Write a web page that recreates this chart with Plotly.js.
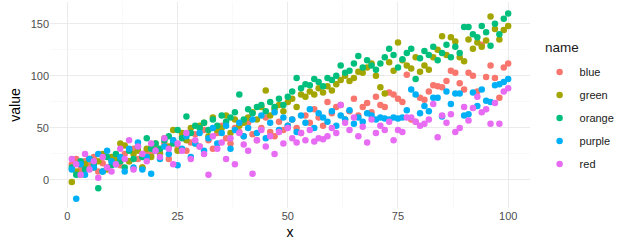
<!DOCTYPE html>
<html>
<head>
<meta charset="utf-8">
<script src="https://cdn.plot.ly/plotly-3.0.1.min.js"></script>
<style>html,body{margin:0;padding:0;background:#fff;}#chart{width:632px;height:250px;}</style>
</head>
<body>
<div id="chart"></div>
<script>
const xs = [];
for (let i = 1; i <= 100; i++) xs.push(i);

const seriesNames = ["blue", "green", "orange", "purple", "red"];
const seriesColors = ["#F8766D", "#A3A500", "#00BF7D", "#00B0F6", "#E76BF3"];
const legendTitle = "name";

const blueVals = [
  15, 20, 10, 18, 14, 22, 8, 16, 12, 19,
  22, 14, 25, 18, 30, 20, 12, 28, 24, 32,
  26, 35, 20, 38, 30, 42, 28, 36, 44, 32,
  48, 38, 30, 45, 52, 40, 35, 50, 46, 42,
  55, 44, 38, 50, 60, 46, 42, 56, 48, 52,
  58, 50, 45, 62, 55, 68, 60, 52, 75, 64,
  70, 72, 58, 66, 78, 62, 70, 74, 65, 80,
  72, 70, 84, 82, 78, 75, 101, 58, 56, 79,
  77, 85, 91, 90, 89, 95, 105, 103, 93, 87,
  103, 100, 85, 130, 99, 110, 98, 79, 108, 112
];
const greenVals = [
  -2, 8, 5, 15, 20, 12, 18, 25, 10, 22,
  20, 35, 33, 18, 25, 28, 12, 30, 22, 35,
  25, 40, 32, 48, 28, 45, 38, 50, 35, 52,
  55, 42, 60, 48, 50, 62, 45, 58, 52, 55,
  60, 65, 58, 70, 86, 62, 68, 72, 66, 75,
  78, 70, 82, 80, 85, 82, 88, 84, 90, 86,
  92, 96, 100, 95, 98, 104, 103, 108, 112, 100,
  89, 83, 113, 105, 132, 115, 110, 107, 118, 104,
  110, 106, 118, 125, 138, 120, 137, 133, 118, 114,
  135, 126, 132, 128, 134, 157, 145, 135, 144, 148
];
const orangeVals = [
  12, 5, 18, 10, 20, 15, -8, 8, 22, 14,
  25, 18, 12, 28, 20, 32, 22, 40, 30, 35,
  30, 38, 42, 35, 48, 40, 61, 45, 52, 50,
  55, 48, 58, 52, 62, 56, 60, 65, 82, 58,
  68, 64, 70, 72, 66, 75, 70, 78, 72, 80,
  85, 98, 88, 92, 91, 97, 94, 90, 98, 96,
  100, 110, 103, 105, 112, 119, 108, 115, 110, 106,
  112, 118, 126, 120, 108, 116, 122, 126, 97, 117,
  124, 120, 128, 115, 122, 130, 118, 128, 122, 147,
  147, 140, 137, 148, 142, 129, 150, 140, 155, 160
];
const purpleVals = [
  10, -18, 15, 5, 20, 12, 25, 8, 28, 18,
  15, 22, 8, 30, 12, 36, 10, 22, 6, 28,
  20, 32, 25, 38, 14, 30, 42, 22, 35, 45,
  28, 40, 50, 35, 45, 52, 30, 48, 55, 42,
  50, 58, 45, 62, 40, 55, 65, 48, 60, 52,
  58, 46, 62, 55, 68, 50, 64, 60, 56, 66,
  52, 62, 58, 67, 54, 60, 56, 64, 62, 58,
  60, 59, 58, 60, 59, 60, 67, 87, 82, 64,
  71, 66, 79, 79, 61, 85, 73, 83, 83, 62,
  63, 84, 71, 87, 76, 75, 91, 92, 94, 97
];
const redVals = [
  20, 15, 5, 25, 10, 18, 2, 22, 12, 8,
  15, 30, 20, 38, 10, 32, 25, 18, 35, 28,
  22, 40, 30, 15, 35, 28, 45, 20, 38, 32,
  25, 5, 42, 30, 36, 20, 40, 15, 45, 34,
  28, 6, 38, 48, 32, 42, 25, 46, 35, 50,
  40, 36, 45, 38, 48, 37, 40, 39, 42, 50,
  45, 72, 55, 48, 60, 42, 51, 36, 58, 45,
  52, 48, 56, 38, 48, 46, 60, 60, 56, 52,
  54, 58, 73, 41, 62, 55, 63, 46, 50, 70,
  57, 69, 80, 65, 68, 54, 74, 54, 85, 88
];
const seriesVals = [blueVals, greenVals, orangeVals, purpleVals, redVals];

const xTicks = [0, 25, 50, 75, 100];
const yTicks = [0, 50, 100, 150];

const traces = seriesNames.map((n, i) => ({
  type: "scatter",
  mode: "markers",
  name: n,
  legendgroup: n,
  x: xs,
  y: seriesVals[i],
  marker: {color: seriesColors[i], size: 6.5, line: {width: 0}},
  hoverinfo: "x+y+name"
}));

const fontFam = "Liberation Sans, Arial, sans-serif";
const layout = {
  width: 632, height: 250,
  paper_bgcolor: "#fff", plot_bgcolor: "#fff",
  margin: {l: 50, r: 102, t: 2, b: 42},
  font: {family: fontFam, color: "#1a1a1a"},
  showlegend: true,
  legend: {
    font: {size: 11, color: "#1a1a1a"},
    x: 1.02, xanchor: "left", y: 0.73, yanchor: "top",
    tracegroupgap: 4,
    itemwidth: 30
  },
  annotations: [{
    text: legendTitle, xref: "paper", yref: "paper",
    x: 1.027, y: 0.781, xanchor: "left", yanchor: "middle",
    showarrow: false, font: {size: 13.5, color: "#1a1a1a", family: fontFam}
  }],
  xaxis: {
    range: [-3.95, 104.95],
    tickvals: xTicks, ticktext: xTicks.map(String),
    showgrid: true, gridcolor: "#ebebeb", gridwidth: 1,
    minor: {tickvals: [12.5, 37.5, 62.5, 87.5], showgrid: true, gridcolor: "#f5f5f5", gridwidth: 0.6},
    zeroline: false, showline: false, ticks: "",
    tickfont: {size: 11, color: "#4d4d4d"},
    title: {text: "x", font: {size: 14, color: "#000"}, standoff: 6}
  },
  yaxis: {
    range: [-27, 171],
    tickvals: yTicks, ticktext: yTicks.map(String),
    showgrid: true, gridcolor: "#ebebeb", gridwidth: 1,
    minor: {tickvals: [25, 75, 125], showgrid: true, gridcolor: "#f5f5f5", gridwidth: 0.6},
    zeroline: false, showline: false, ticks: "",
    tickfont: {size: 11, color: "#4d4d4d"},
    title: {text: "value", font: {size: 14, color: "#000"}, standoff: 6}
  }
};

Plotly.newPlot("chart", traces, layout, {displayModeBar: false, staticPlot: true});
</script>
</body>
</html>
